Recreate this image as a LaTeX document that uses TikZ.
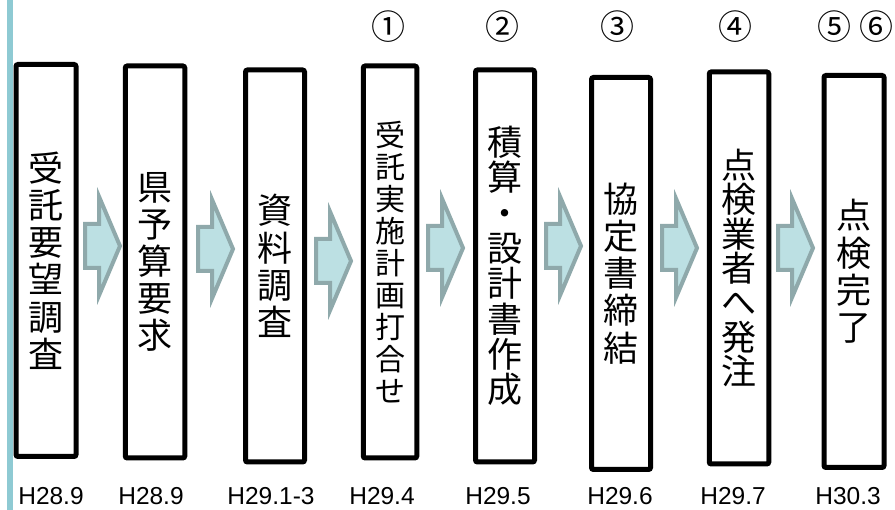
\documentclass[tikz,border=0pt]{standalone}
\usepackage{fontspec}
\newfontfamily\cjk{Noto Sans CJK JP}
\newfontfamily\latin{Liberation Sans}
\usetikzlibrary{shapes.arrows}

\definecolor{sideline}{HTML}{8ECAD3}
\definecolor{arrowfill}{HTML}{BCE0E3}
\definecolor{arrowedge}{HTML}{8FA9AB}

\tikzset{
	stagebox/.style={draw, line width=5pt, rounded corners=2pt, minimum width=60pt, minimum height=392pt, inner sep=0pt, align=center, font=\cjk\fontsize{35}{37.2}\selectfont},
	flowarrow/.style={single arrow, draw=arrowedge, fill=arrowfill, line width=4pt, minimum height=35pt, minimum width=94pt, inner xsep=0pt, inner ysep=20pt, single arrow head extend=27pt, single arrow tip angle=134, anchor=tail},
	steplabel/.style={font=\cjk\fontsize{34}{34}\selectfont, inner sep=0pt},
	datelabel/.style={font=\latin\fontsize{24.5}{24.5}\selectfont, anchor=base, inner sep=0pt}
}

\begin{document}
\begin{tikzpicture}[x=1pt, y=-1pt]
	  \useasboundingbox (0,0) rectangle (895,510);
	  \draw[sideline, line width=6pt] (10,0) -- (10,510);
	  \node at (46,260.5) (b1) [stagebox]{受\\託\\要\\望\\調\\査};
	  \node at (155,262) (b2) [stagebox, minimum width=59.5pt]{県\\予\\算\\要\\求};
	  \node at (275,266) (b3) [stagebox, minimum width=59pt]{資\\料\\調\\査};
	  \node at (390,262) (b4) [stagebox, minimum width=53.5pt, font=\cjk\fontsize{30}{31.9}\selectfont]{受\\託\\実\\施\\計\\画\\打\\合\\せ};
	  \node at (505,266) (b5) [stagebox, minimum width=59pt, font=\cjk\fontsize{35}{35.3}\selectfont]{積\\算\\・\\設\\計\\書\\作\\成};
	  \node at (621,273.5) (b6) [stagebox, minimum width=59pt]{協\\定\\書\\締\\結};
	  \node at (739,268) (b7) [stagebox, minimum width=59.5pt, font=\cjk\fontsize{35}{34.3}\selectfont]{点\\検\\業\\者\\へ\\発\\注};
	  \node at (854,271.5) (b8) [stagebox]{点\\検\\完\\了};
	  \node at (83,246) (a1) [flowarrow]{};
	  \node at (196,249) (a2) [flowarrow]{};
	  \node at (314,261) (a3) [flowarrow]{};
	  \node at (426,248) (a4) [flowarrow]{};
	  \node at (544,246) (a5) [flowarrow]{};
	  \node at (660,248) (a6) [flowarrow]{};
	  \node at (776,248) (a7) [flowarrow]{};
	  \node at (388,27) (n1) [steplabel]{①};
	  \node at (502,27) (n2) [steplabel]{②};
	  \node at (617,27) (n3) [steplabel]{③};
	  \node at (735,27) (n4) [steplabel]{④};
	  \node at (834,27) (n5) [steplabel]{⑤};
	  \node at (876,27) (n6) [steplabel]{⑥};
	  \node at (51,505) (d1) [datelabel]{H28.9};
	  \node at (151,505) (d2) [datelabel]{H28.9};
	  \node at (271,505) (d3) [datelabel]{H29.1-3};
	  \node at (382,505) (d4) [datelabel]{H29.4};
	  \node at (498,505) (d5) [datelabel]{H29.5};
	  \node at (620,505) (d6) [datelabel]{H29.6};
	  \node at (733,505) (d7) [datelabel]{H29.7};
	  \node at (848,505) (d8) [datelabel]{H30.3};
	\end{tikzpicture}
\end{document}
